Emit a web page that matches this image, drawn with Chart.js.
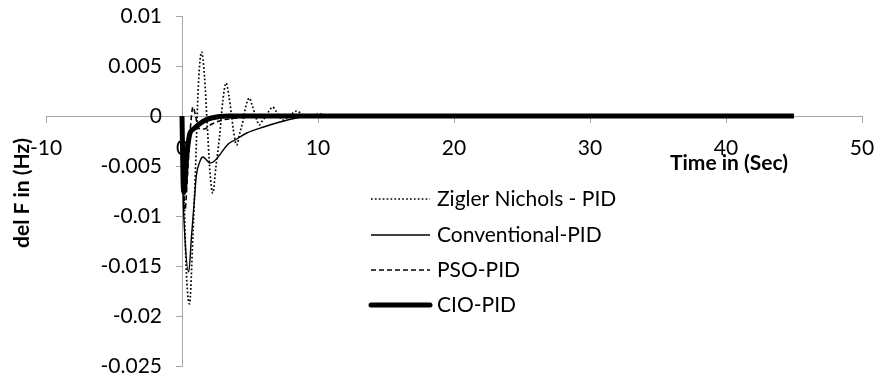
<!DOCTYPE html>
<html>
<head>
<meta charset="utf-8">
<script src="https://cdn.jsdelivr.net/npm/chart.js@4.4.1/dist/chart.umd.min.js"></script>
<style>
  body { margin: 0; background: #fff; }
  #chart { display: block; }
</style>
</head>
<body>
<canvas id="chart" width="880" height="380"></canvas>
<script>
// time (sec) and del F (Hz)
const znTime = [0, 0.12, 0.3, 0.55, 0.8, 1.0, 1.2, 1.45, 1.65, 1.85, 2.05, 2.26, 2.5, 2.75, 3.0, 3.24, 3.45, 3.63, 3.82, 4.02, 4.25, 4.48, 4.7, 4.95, 5.15, 5.32, 5.5, 5.68, 5.9, 6.17, 6.4, 6.67, 6.9, 7.05, 7.4, 7.9, 8.43, 8.8, 9.2, 9.7, 10.2, 11, 45];
const znVals = [0, -0.006, -0.015, -0.0188, -0.012, -0.005, 0.003, 0.0064, 0.004, -0.0007, -0.0055, -0.0077, -0.005, -0.0022, 0.0015, 0.0033, 0.002, 0.0002, -0.0018, -0.0029, -0.0017, -0.0005, 0.001, 0.0018, 0.0011, 0.0004, -0.0004, -0.0009, -0.0005, 0, 0.0005, 0.0009, 0.0005, 0.0002, -0.0004, 0, 0.0005, 0.0002, -0.0001, 0.0001, 0.0002, 0, 0];

const convTime = [0, 0.05, 0.2, 0.49, 0.7, 0.91, 1.05, 1.3, 1.54, 1.8, 2.05, 2.3, 2.65, 3.4, 3.9, 4.76, 6.0, 7.2, 8.4, 9.5, 45];
const convVals = [0, -0.006, -0.0118, -0.0156, -0.012, -0.0084, -0.006, -0.0046, -0.0041, -0.0044, -0.0047, -0.0046, -0.0041, -0.0028, -0.0024, -0.0017, -0.0011, -0.0006, -0.0002, 0, 0];

const psoTime = [0, 0.08, 0.22, 0.4, 0.6, 0.81, 1.0, 1.2, 1.6, 2.2, 3.0, 4.0, 6.0, 45];
const psoVals = [0, -0.005, -0.0094, -0.006, -0.0015, 0.0009, 0, -0.0012, -0.0013, -0.0008, -0.0004, -0.0002, 0, 0];

const cioTime = [0, 0.08, 0.15, 0.35, 0.57, 0.85, 1.18, 1.6, 2.16, 3.4, 45];
const cioVals = [0, -0.0065, -0.0076, -0.004, -0.0018, -0.0013, -0.0009, -0.0005, -0.0002, 0, 0];

const seriesNames = ['Zigler Nichols - PID', 'Conventional-PID', 'PSO-PID', 'CIO-PID'];
const xTicks = [-10, 0, 10, 20, 30, 40, 50];
const yTicks = [0.01, 0.005, 0, -0.005, -0.01, -0.015, -0.02, -0.025];

const pts = (t, v) => t.map((x, i) => ({ x: x, y: v[i] }));

const FONT = 'Lato, "Open Sans", sans-serif';
const axisGrey = '#a6a6a6';

// axes sit inside the plot, so they should not eat layout space
const noSpace = (scale) => {
    if (scale.isHorizontal()) scale.height = 0; else scale.width = 0;
    scale.paddingTop = scale.paddingBottom = scale.paddingLeft = scale.paddingRight = 0;
};

const fmtY = (v) => String(Number(v.toFixed(3)));

// y tick labels, titles and legend
const extras = {
    id: 'extras',
    afterDraw(chart) {
        const ctx = chart.ctx;
        const ys = chart.scales.y;
        const axisX = chart.scales.x.getPixelForValue(0);

        ctx.save();
        ctx.fillStyle = '#000';
        ctx.font = '21px ' + FONT;
        ctx.textAlign = 'right';
        ctx.textBaseline = 'middle';
        ys.ticks.forEach(t => {
            ctx.fillText(fmtY(t.value), axisX - 20, ys.getPixelForValue(t.value));
        });
        ctx.restore();

        ctx.save();
        ctx.fillStyle = '#000';
        ctx.font = 'bold 21px ' + FONT;
        ctx.textAlign = 'center';
        ctx.textBaseline = 'middle';
        ctx.fillText('Time in (Sec)', 729, 163);
        ctx.translate(22, 193);
        ctx.rotate(-Math.PI / 2);
        ctx.fillText('del F in (Hz)', 0, 0);
        ctx.restore();

        ctx.save();
        ctx.font = '21px ' + FONT;
        ctx.textAlign = 'left';
        ctx.textBaseline = 'middle';
        const rows = [199, 235, 270, 305];
        chart.data.datasets.forEach((ds, i) => {
            const y = rows[i];
            ctx.strokeStyle = ds.borderColor;
            ctx.lineWidth = ds.borderWidth;
            ctx.setLineDash(ds.borderDash || []);
            ctx.lineCap = ds.borderWidth > 3 ? 'round' : 'butt';
            ctx.beginPath();
            ctx.moveTo(371, y);
            ctx.lineTo(430, y);
            ctx.stroke();
            ctx.fillStyle = '#000';
            ctx.fillText(ds.label, 437, y);
        });
        ctx.restore();
    }
};

new Chart(document.getElementById('chart'), {
    type: 'line',
    data: {
        datasets: [
            {
                label: seriesNames[0],
                data: pts(znTime, znVals),
                borderColor: '#000',
                borderWidth: 1.7,
                borderDash: [1.7, 2.2],
                order: 3
            },
            {
                label: seriesNames[1],
                data: pts(convTime, convVals),
                borderColor: '#000',
                borderWidth: 1.4,
                order: 2
            },
            {
                label: seriesNames[2],
                data: pts(psoTime, psoVals),
                borderColor: '#000',
                borderWidth: 1.6,
                borderDash: [5, 3],
                order: 1
            },
            {
                label: seriesNames[3],
                data: pts(cioTime, cioVals),
                borderColor: '#000',
                borderWidth: 5,
                order: 0
            }
        ]
    },
    options: {
        responsive: false,
        animation: false,
        devicePixelRatio: 1,
        layout: { padding: { left: 46, right: 18, top: 16, bottom: 14 } },
        elements: {
            point: { radius: 0 },
            line: { cubicInterpolationMode: 'monotone', fill: false }
        },
        scales: {
            x: {
                type: 'linear',
                min: -10,
                max: 50,
                position: { y: 0 },
                afterBuildTicks: (scale) => { scale.ticks = xTicks.map(v => ({ value: v })); },
                afterFit: noSpace,
                ticks: { color: '#000', font: { family: FONT, size: 21 }, padding: 14, maxRotation: 0 },
                grid: { drawOnChartArea: false, tickLength: 6, color: axisGrey },
                border: { color: axisGrey }
            },
            y: {
                type: 'linear',
                min: -0.025,
                max: 0.01,
                position: { x: 0 },
                afterBuildTicks: (scale) => { scale.ticks = yTicks.map(v => ({ value: v })); },
                afterFit: noSpace,
                ticks: { display: false },
                grid: { drawOnChartArea: false, tickLength: 6, color: axisGrey },
                border: { color: axisGrey }
            }
        },
        plugins: {
            legend: { display: false },
            tooltip: { enabled: false }
        }
    },
    plugins: [extras]
});
</script>
</body>
</html>
